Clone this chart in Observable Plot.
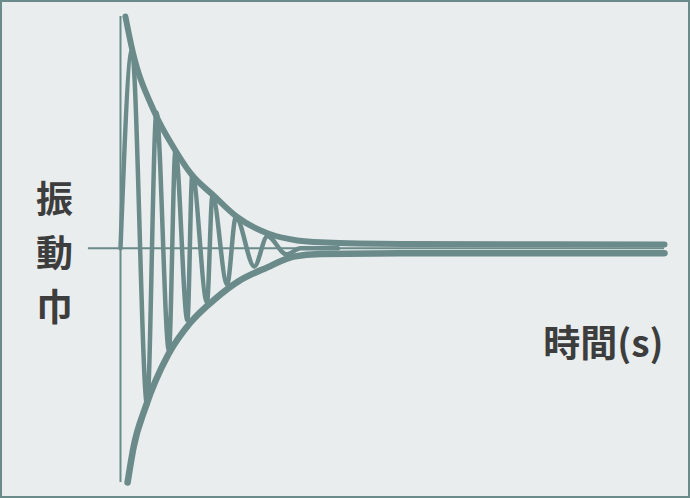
<!DOCTYPE html>
<html>
<head>
<meta charset="utf-8">
<script src="https://cdn.jsdelivr.net/npm/d3@7"></script>
<script src="https://cdn.jsdelivr.net/npm/@observablehq/plot@0.6"></script>
<style>
  html, body { margin: 0; padding: 0; background: #e9edee; }
  #chart svg { display: block; outline: 2.5px solid #6b8b8a; outline-offset: -2.5px; }
</style>
</head>
<body>
<div id="chart"></div>
<script>
// Damped oscillation (time in s, amplitude relative)
const waveT = [0, 0.21, 0.49, 0.66, 0.89, 1.01, 1.23, 1.32, 1.59, 1.69, 1.96, 2.12, 2.46, 2.70, 3.05, 3.31, 4.0];
const waveA = [0, 0.853, -0.677, 0.586, -0.44, 0.422, -0.31, 0.319, -0.233, 0.228, -0.155, 0.134, -0.078, 0.052, -0.026, 0, 0];

// Upper envelope
const upperT = [0.09, 0.22, 0.61, 1.01, 1.29, 1.71, 2.15, 2.70, 3.25, 3.68, 5.15, 10];
const upperA = [1.0, 0.853, 0.595, 0.422, 0.323, 0.228, 0.134, 0.065, 0.034, 0.026, 0.019, 0.017];

// Lower envelope
const lowerT = [0.13, 0.24, 0.46, 0.88, 1.29, 1.75, 2.17, 2.70, 3.18, 3.68, 5.15, 10];
const lowerA = [-1.01, -0.858, -0.685, -0.457, -0.319, -0.216, -0.142, -0.082, -0.036, -0.024, -0.021, -0.021];

// Axes extents
const timeAxis = [-0.59, 10];
const yLabel = "振\n動\n巾";
const xLabel = "時間(s)";

const wave = waveT.map((t, i) => ({t, a: waveA[i]}));
const upper = upperT.map((t, i) => ({t, a: upperA[i]}));
const lower = lowerT.map((t, i) => ({t, a: lowerA[i]}));

const color = "#6b8b8a";
const textColor = "#3d3d3d";
const font = "'Noto Sans CJK JP', 'Noto Sans', sans-serif";

const chart = Plot.plot({
  width: 690,
  height: 498,
  marginLeft: 120,
  marginRight: 26,
  marginTop: 16,
  marginBottom: 16,
  x: {domain: [0, 10], axis: null},
  y: {domain: [-1.01, 1], axis: null},
  style: {background: "#e9edee", fontFamily: font},
  marks: [
    Plot.ruleY([0], {x1: timeAxis[0], x2: timeAxis[1], stroke: color, strokeWidth: 2}),
    Plot.ruleX([0], {stroke: color, strokeWidth: 2}),
    Plot.line(wave, {x: "t", y: "a", curve: "monotone-x", stroke: color, strokeWidth: 4.5}),
    Plot.line(upper, {x: "t", y: "a", curve: "monotone-x", stroke: color, strokeWidth: 6}),
    Plot.line(lower, {x: "t", y: "a", curve: "monotone-x", stroke: color, strokeWidth: 6.5}),
    Plot.text([yLabel], {frameAnchor: "left", dx: -66, text: d => d, fontSize: 37, lineHeight: 1.46, fontWeight: 600, fill: textColor, textAnchor: "middle"}),
    Plot.text([xLabel], {frameAnchor: "right", dx: -1, dy: 96, text: d => d, fontSize: 37, fontWeight: 600, fill: textColor, textAnchor: "end"})
  ]
});
document.getElementById("chart").appendChild(chart);
</script>
</body>
</html>
